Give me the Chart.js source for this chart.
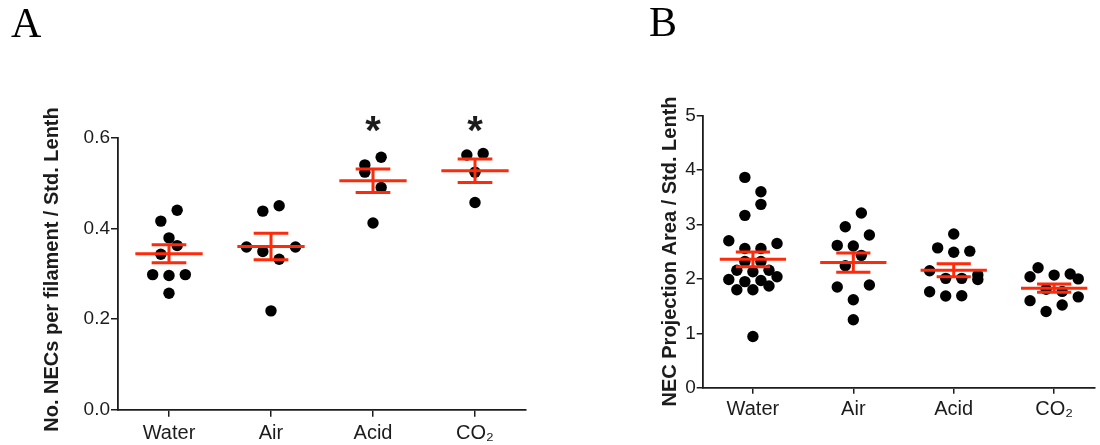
<!DOCTYPE html>
<html><head><meta charset="utf-8">
<script src="https://cdn.jsdelivr.net/npm/chart.js@4.4.1/dist/chart.umd.min.js"></script>
<style>
html,body{margin:0;padding:0;background:#fff;overflow:hidden;width:1100px;height:445px}
canvas{position:absolute;top:0}
#ca{left:0}
#cb{left:550px}
</style></head><body>
<canvas id="ca" width="550" height="445"></canvas>
<canvas id="cb" width="550" height="445"></canvas>
<script>
const categories = ['Water', 'Air', 'Acid', 'CO₂'];

// Panel A: No. NECs per filament / Std. Lenth
const necWater = [0.440, 0.416, 0.379, 0.362, 0.343, 0.298, 0.296, 0.298, 0.257];
const necAir   = [0.438, 0.450, 0.359, 0.349, 0.359, 0.332, 0.218];
const necAcid  = [0.540, 0.524, 0.557, 0.490, 0.412];
const necCO2   = [0.562, 0.565, 0.524, 0.457];
// swarm lane of each point (column within the category's dot cluster)
const necWaterLane = [1, -1, 0, 1, -1, -2, 0, 2, 0];
const necAirLane   = [-1, 1, -3, -1, 3, 1, 0];
const necAcidLane  = [-1, -1, 1, 1, 0];
const necCO2Lane   = [-1, 1, 0, 0];
const necMean = [0.344, 0.360, 0.505, 0.527];
const necSem  = [0.020, 0.029, 0.026, 0.026];
const necStars = ['', '', '*', '*'];
const necTicks = [0.0, 0.2, 0.4, 0.6];

// Panel B: NEC Projection Area / Std. Lenth
const areaWater = [3.866, 3.603, 3.370, 3.168, 2.70, 2.65, 2.56, 2.56, 2.32, 2.32, 2.16, 2.16, 2.13, 1.99, 2.04, 1.95, 1.97, 1.80, 1.80, 1.87, 0.94];
const areaAir   = [3.211, 2.960, 2.806, 2.616, 2.604, 2.433, 2.243, 1.850, 1.887, 1.618, 1.250];
const areaAcid  = [2.825, 2.57, 2.49, 2.51, 2.15, 2.01, 2.01, 2.07, 1.99, 1.765, 1.685, 1.69];
const areaCO2   = [2.206, 2.04, 2.07, 2.09, 2.00, 1.81, 1.77, 1.60, 1.67, 1.52, 1.40];
const areaWaterLane = [-1, 1, 1, -1, -3, 3, -1, 1, -1, 1, -2, 2, 0, -3, 3, -1, 1, -2, 0, 2, 0];
const areaAirLane   = [1, -1, 2, -2, 0, 1, -1, -2, 2, 0, 0];
const areaAcidLane  = [0, -2, 0, 2, -3, -1, 1, 3, 3, -3, -1, 1];
const areaCO2Lane   = [-2, -3, 0, 2, 3, -1, 1, -3, 3, 1, -1];
const areaMean = [2.36, 2.30, 2.16, 1.83];
const areaSem  = [0.135, 0.177, 0.12, 0.077];
const areaStars = ['', '', '', ''];
const areaTicks = [0, 1, 2, 3, 4, 5];

const RED = '#ff2a0a';
const INK = '#1c1c1c';
const LANE = 0.08;

const annot = {
  id: 'annot',
  afterDraw(chart, args, o) {
    const ctx = chart.ctx, ca = chart.chartArea, xs = chart.scales.x;
    ctx.save();
    ctx.fillStyle = '#000';
    ctx.font = '42px "Liberation Serif", "Times New Roman", serif';
    ctx.textAlign = 'left'; ctx.textBaseline = 'alphabetic';
    ctx.fillText(o.letter, o.letterX, o.letterY);
    ctx.fillStyle = INK;
    ctx.font = 'bold 40px "Liberation Sans", Arial, sans-serif';
    ctx.textAlign = 'center';
    o.stars.forEach((s, i) => { if (s) ctx.fillText(s, xs.getPixelForValue(i), ca.top + 6); });
    ctx.translate(o.titleX, o.titleY);
    ctx.rotate(-Math.PI / 2);
    ctx.font = 'bold 20px "Liberation Sans", Arial, sans-serif';
    ctx.textBaseline = 'middle';
    ctx.fillText(o.title, 0, 0);
    ctx.restore();
  }
};

function makePanel(id, groups, lanes, means, sems, stars, ticks, cfg) {
  const pts = [];
  groups.forEach((g, i) => g.forEach((v, k) => pts.push({x: i + lanes[i][k] * LANE, y: v})));
  const datasets = [];
  means.forEach((m, i) => {
    const segs = [
      [[i - 0.33, m], [i + 0.33, m]],
      [[i - 0.17, m + sems[i]], [i + 0.17, m + sems[i]]],
      [[i - 0.17, m - sems[i]], [i + 0.17, m - sems[i]]],
      [[i, m - sems[i]], [i, m + sems[i]]]
    ];
    segs.forEach(s => datasets.push({
      type: 'line', data: s.map(p => ({x: p[0], y: p[1]})), borderColor: RED, borderWidth: 3,
      pointRadius: 0, fill: false, order: 0, clip: false, borderCapStyle: 'butt'
    }));
  });
  datasets.push({type: 'scatter', data: pts, backgroundColor: '#000', borderWidth: 0, pointRadius: 5.7, order: 1, clip: false});
  const tickFont = {family: '"Liberation Sans", Arial, sans-serif', size: cfg.tickSize};
  return new Chart(document.getElementById(id), {
    type: 'scatter',
    data: {datasets},
    plugins: [annot],
    options: {
      responsive: false, animation: false, events: [],
      layout: {padding: {top: cfg.top, right: cfg.right, left: 0, bottom: 0}},
      plugins: {legend: {display: false}, tooltip: {enabled: false},
        annot: {letter: cfg.letter, letterX: cfg.letterX, letterY: cfg.letterY, title: cfg.title, titleX: cfg.titleX, titleY: cfg.titleY, stars}},
      scales: {
        x: {type: 'linear', min: -0.5, max: cfg.xmax,
          afterBuildTicks: s => { s.ticks = categories.map((c, i) => ({value: i})); },
          afterFit: s => { s.height = cfg.xh; },
          ticks: {callback: v => categories[v], font: {...tickFont, size: 20}, color: INK, padding: cfg.xpad, autoSkip: false, maxRotation: 0},
          grid: {display: true, drawOnChartArea: false, drawTicks: true, tickLength: cfg.tickLen, color: INK, lineWidth: 1.5},
          border: {display: true, color: INK, width: 1.8}},
        y: {type: 'linear', min: 0, max: ticks[ticks.length - 1],
          afterBuildTicks: s => { s.ticks = ticks.map(v => ({value: v})); },
          afterFit: s => { s.width = cfg.yw; },
          ticks: {callback: v => cfg.fmt(v), font: tickFont, color: INK, padding: 1},
          grid: {display: true, drawOnChartArea: false, drawTicks: true, tickLength: cfg.tickLen, color: INK, lineWidth: 1.5},
          border: {display: true, color: INK, width: 1.8}}
      }
    }
  });
}

makePanel('ca', [necWater, necAir, necAcid, necCO2], [necWaterLane, necAirLane, necAcidLane, necCO2Lane],
  necMean, necSem, necStars, necTicks,
  {top: 137.7, right: 24, xmax: 3.5, xh: 445 - 409.7, yw: 118, tickLen: 7, xpad: 5, tickSize: 19,
   fmt: v => v.toFixed(1), letter: 'A', letterX: 11, letterY: 37,
   title: 'No. NECs per filament / Std. Lenth', titleX: 52, titleY: 269.5});

makePanel('cb', [areaWater, areaAir, areaAcid, areaCO2], [areaWaterLane, areaAirLane, areaAcidLane, areaCO2Lane],
  areaMean, areaSem, areaStars, areaTicks,
  {top: 115.7, right: 0, xmax: 3.4, xh: 445 - 387.7, yw: 152.7, tickLen: 6, xpad: 4, tickSize: 19,
   fmt: v => String(Math.round(v)), letter: 'B', letterX: 99, letterY: 36,
   title: 'NEC Projection Area / Std. Lenth', titleX: 120, titleY: 251.5});
</script>
</body></html>
